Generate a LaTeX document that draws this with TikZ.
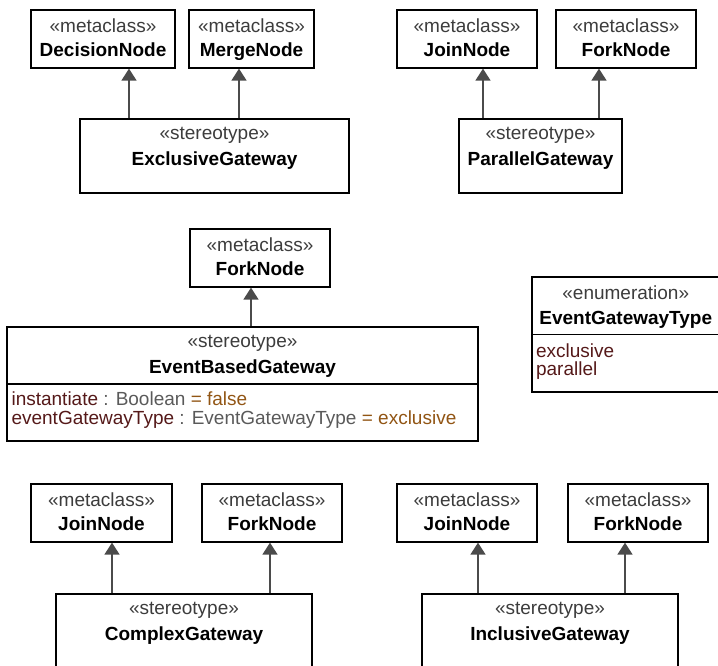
\documentclass[tikz,border=0pt]{standalone}
\usepackage{fontspec}
\setmainfont{Liberation Sans}
\usetikzlibrary{arrows.meta}

\definecolor{stereogray}{RGB}{60,60,60}
\definecolor{genline}{RGB}{75,75,75}
\definecolor{attrname}{RGB}{85,25,25}
\definecolor{attrtype}{RGB}{90,90,90}
\definecolor{attrval}{RGB}{145,85,20}

\tikzset{
  classbox/.style 2 args={draw=black, line width=1.3pt, inner sep=0pt,
    minimum width=#1, minimum height=#2},
  stereotxt/.style={anchor=base, inner sep=0pt, text=stereogray},
  nametxt/.style={anchor=base, inner sep=0pt, font=\bfseries},
  attrtxt/.style={anchor=base west, inner sep=0pt},
  gen/.style={draw=genline, line width=1.6pt,
    -{Triangle[width=15pt,length=12pt,fill=genline]}},
}

\begin{document}
\fontsize{19}{22}\selectfont
\begin{tikzpicture}[x=1pt,y=-1pt]
    \useasboundingbox (0,0) rectangle (718,665);
    \clip (0,0) rectangle (718,665);

    % metaclasses
    \foreach \n/\x/\y/\w/\t in {dec/103/39/144/DecisionNode, mrg/251.5/39/125/MergeNode,
        joinA/467/39/140/JoinNode, forkA/626/39/140/ForkNode,
        forkB/260/258/140/ForkNode,
        joinC/101.5/513/141/JoinNode, forkC/272/513/140/ForkNode,
        joinD/467/513/140/JoinNode, forkD/638/513/140/ForkNode}{
        \node[classbox={\w pt}{58pt}] (\n) at (\x,\y) {};
        \node[stereotxt] (\n S) at ([yshift=-23pt]\n.north) {«metaclass»};
        \node[nametxt] (\n N) at ([yshift=-47.5pt]\n.north) {\t};
    }

    % stereotypes
    \foreach \n/\x/\y/\w/\t in {exg/214.5/156/269/ExclusiveGateway, par/540.5/156/163/ParallelGateway,
        cpx/184/631/256/ComplexGateway, inc/550/631/256/InclusiveGateway}{
        \node[classbox={\w pt}{74pt}] (\n) at (\x,\y) {};
        \node[stereotxt] (\n S) at ([yshift=-21pt]\n.north) {«stereotype»};
        \node[nametxt] (\n N) at ([yshift=-47pt]\n.north) {\t};
    }

    \node[classbox={471pt}{114pt}] (ebg) at (242.5,384) {};
    \draw[line width=1.3pt] (ebg.west) -- (ebg.east);
    \node[stereotxt] (ebgS) at ([yshift=-21pt]ebg.north) {«stereotype»};
    \node[nametxt] (ebgN) at ([yshift=-47pt]ebg.north) {EventBasedGateway};
    \node[attrtxt] (ebgA) at ([xshift=5pt,yshift=-21pt]ebg.west)
        {\textcolor{attrname}{instantiate} \textcolor{attrtype}{: Boolean} \textcolor{attrval}{= false}};
    \node[attrtxt] (ebgB) at ([xshift=5pt,yshift=-40pt]ebg.west)
        {\textcolor{attrname}{eventGatewayType} \textcolor{attrtype}{: EventGatewayType} \textcolor{attrval}{= exclusive}};

    % enumeration
    \node[classbox={187.5pt}{115pt}] (enm) at (625.75,334.5) {};
    \draw[line width=1.3pt] (enm.west) -- (enm.east);
    \node[stereotxt] (enmS) at ([yshift=-23pt]enm.north) {«enumeration»};
    \node[nametxt] (enmN) at ([yshift=-48pt]enm.north) {EventGatewayType};
    \node[attrtxt, text=attrname] (enmA) at ([xshift=4.5pt,yshift=-22.5pt]enm.west) {exclusive};
    \node[attrtxt, text=attrname] (enmB) at ([xshift=4.5pt,yshift=-40.5pt]enm.west) {parallel};

    % generalizations
    \draw[gen] ([xshift=-85.5pt]exg.north) coordinate (g1) -- (g1 |- dec.south);
    \draw[gen] ([xshift=24.5pt]exg.north) coordinate (g2) -- (g2 |- mrg.south);
    \draw[gen] ([xshift=-57.5pt]par.north) coordinate (g3) -- (g3 |- joinA.south);
    \draw[gen] ([xshift=58.5pt]par.north) coordinate (g4) -- (g4 |- forkA.south);
    \draw[gen] ([xshift=8.5pt]ebg.north) coordinate (g5) -- (g5 |- forkB.south);
    \draw[gen] ([xshift=-72pt]cpx.north) coordinate (g6) -- (g6 |- joinC.south);
    \draw[gen] ([xshift=86pt]cpx.north) coordinate (g7) -- (g7 |- forkC.south);
    \draw[gen] ([xshift=-72pt]inc.north) coordinate (g8) -- (g8 |- joinD.south);
    \draw[gen] ([xshift=75pt]inc.north) coordinate (g9) -- (g9 |- forkD.south);
\end{tikzpicture}
\end{document}
